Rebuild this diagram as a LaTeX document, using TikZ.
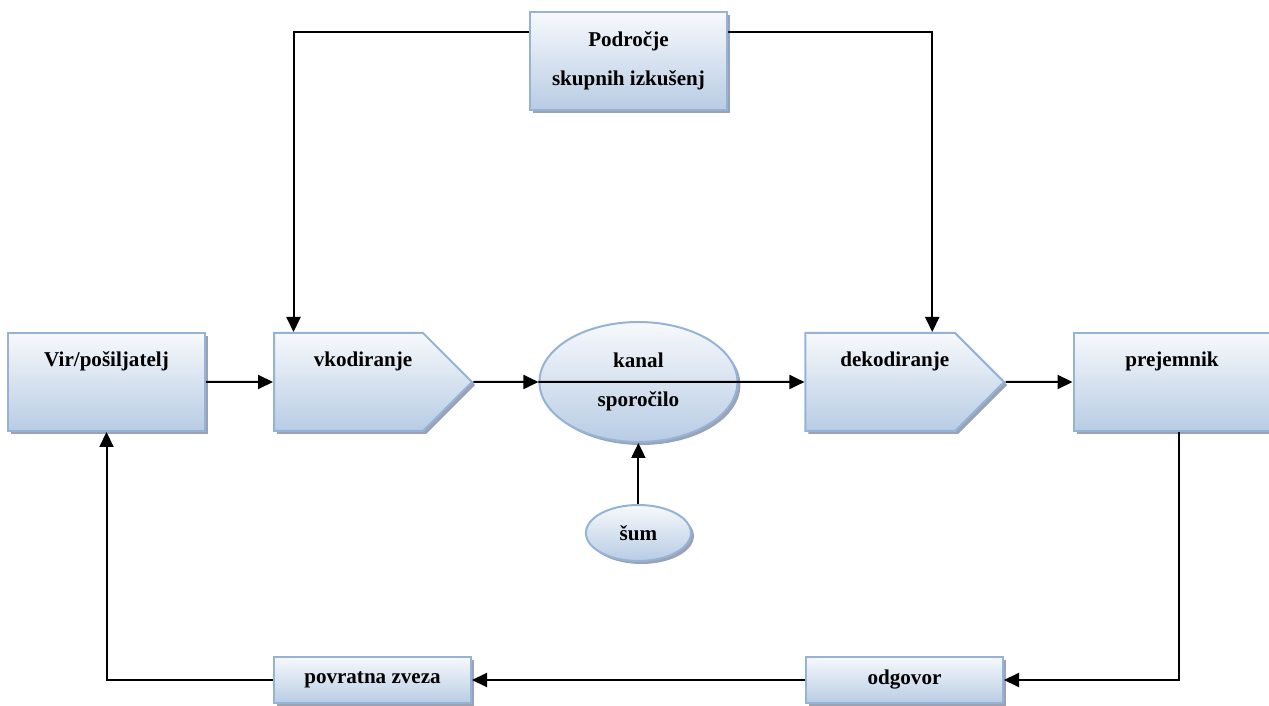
\documentclass[tikz,border=0pt]{standalone}
\usepackage{fontspec}
\setmainfont{Liberation Serif}
\usepackage{tikz}
\usetikzlibrary{arrows.meta, positioning, shapes.geometric, shapes.symbols, shadows}
\definecolor{boxline}{RGB}{149,179,215}
\definecolor{boxtop}{RGB}{247,249,252}
\definecolor{boxbottom}{RGB}{184,204,228}
\definecolor{boxshadow}{RGB}{128,140,162}
\tikzset{
    base/.style={draw=boxline, line width=0.04cm, top color=boxtop, bottom color=boxbottom,
      font=\fontsize{12}{14}\selectfont\bfseries,
      drop shadow={shadow xshift=0.06cm, shadow yshift=-0.06cm, fill=boxshadow, opacity=0.8}},
    block/.style={base, rectangle, minimum width=3.94cm, inner ysep=0pt, text height=0.68cm, text depth=1.28cm},
    coder/.style={base, signal, signal to=east, signal pointer angle=90, minimum width=3.96cm,
      inner ysep=0pt, text height=0.68cm, text depth=1.28cm},
    topbox/.style={base, rectangle, minimum width=3.94cm, minimum height=1.96cm, align=center},
    small/.style={base, rectangle, minimum width=3.94cm, minimum height=0.92cm},
    ellip/.style={base, ellipse, inner sep=0pt, align=center},
    arr/.style={line width=0.04cm, -{Triangle[length=0.3cm, width=0.28cm]}},
}

\begin{document}
\begin{tikzpicture}
    \useasboundingbox (0,0) rectangle (25.38,14.12);

    % main row
    \node[block] (vir) at (2.13,6.48) {Vir/pošiljatelj};
    \node[coder, right=1.34cm of vir] (vkod) {\hspace*{0.58cm}vkodiranje};
    \node[ellip, minimum width=3.96cm, minimum height=2.4cm, right=1.30cm of vkod] (kanal) {kanal\\[8pt]sporočilo};
    \node[coder, right=1.32cm of kanal] (dekod) {\hspace*{0.58cm}dekodiranje};
    \node[block, right=1.34cm of dekod] (prej) {prejemnik};

    \node[ellip, minimum width=2.1cm, minimum height=1.12cm, below=1.22cm of kanal] (sum) {šum};

    \node[topbox] (podr) at (12.57,12.90) {Področje\\[8pt]skupnih izkušenj};

    \node[small] (odg) at (18.09,0.52) {odgovor};
    \node[small] (povr) at (7.45,0.52) {povratna zveza};

    \draw[arr] (vir) -- (vkod);
    \draw[arr] (vkod) -- (kanal);
    \draw[arr] (kanal.west) -- (dekod);
    \draw[arr] (dekod) -- (prej);
    \draw[arr] (sum) -- (kanal);

    \draw[arr] ([yshift=0.58cm]podr.west) -| ([xshift=-1.1cm]vkod.north);
    \draw[arr] ([yshift=0.58cm]podr.east) -| ([xshift=1.04cm]dekod.north);

    % feedback loop
    \draw[arr] ([xshift=0.13cm]prej.south) |- (odg);
    \draw[arr] (odg) -- (povr);
    \draw[arr] (povr) -| (vir);
\end{tikzpicture}
\end{document}
